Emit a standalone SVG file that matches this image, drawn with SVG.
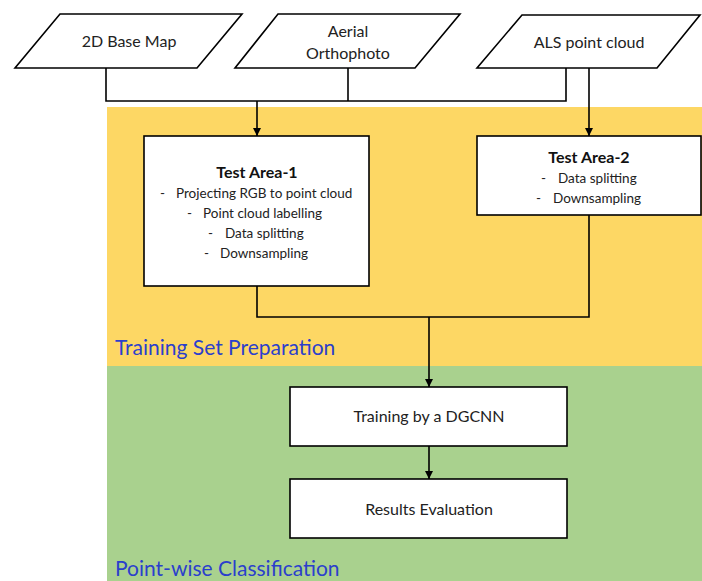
<svg xmlns="http://www.w3.org/2000/svg" width="702" height="581" viewBox="0 0 702 581">
<defs>
<marker id="arr" viewBox="0 0 10 10" refX="10" refY="5" markerWidth="8" markerHeight="8" markerUnits="userSpaceOnUse" orient="auto">
<path d="M0,0 L10,5 L0,10 z" fill="#000"/>
</marker>
<style>
.box{fill:#fff;stroke:#000;stroke-width:1.6}
.t{font-family:Lato,"Liberation Sans",sans-serif;font-size:16px;fill:#222;text-anchor:middle}
.s{font-family:Lato,"Liberation Sans",sans-serif;font-size:13.5px;fill:#222}
.b{font-family:Lato,"Liberation Sans",sans-serif;font-size:16px;font-weight:bold;fill:#111;text-anchor:middle}
.lab{font-family:Lato,"Liberation Sans",sans-serif;font-size:21px;fill:#2B3FCC}
.c{fill:none;stroke:#000;stroke-width:1.6}
</style>
</defs>
<rect x="0" y="0" width="702" height="581" fill="#fff"/>
<rect x="107" y="107" width="595" height="259" fill="#FDD764"/>
<rect x="107" y="366" width="595" height="215" fill="#A9D18E"/>
<text class="lab" x="115" y="355">Training Set Preparation</text>
<text class="lab" x="115" y="576">Point-wise Classification</text>
<g id="connectors">
<path class="c" d="M106,68 V101 H566 V68"/>
<path class="c" d="M348,68 V101"/>
<path class="c" d="M257,101 V136" marker-end="url(#arr)"/>
<path class="c" d="M589,68 V136" marker-end="url(#arr)"/>
<path class="c" d="M257,286 V317 H589 V215"/>
<path class="c" d="M429,317 V387" marker-end="url(#arr)"/>
<path class="c" d="M429,446 V479" marker-end="url(#arr)"/>
</g>
<g id="base-map">
<polygon class="box" points="60,14 242,14 197,68 15,68"/>
<text class="t" x="129" y="47">2D Base Map</text>
</g>
<g id="orthophoto">
<polygon class="box" points="278,14 460,14 415,68 235,68"/>
<text class="t" x="348" y="37">Aerial</text>
<text class="t" x="348" y="59">Orthophoto</text>
</g>
<g id="als">
<polygon class="box" points="522,15 700,15 657,68 477,68"/>
<text class="t" x="589" y="48">ALS point cloud</text>
</g>
<g id="test-area-1">
<rect class="box" x="144" y="136" width="225" height="150"/>
<text class="b" x="257" y="178">Test Area-1</text>
<text class="s" x="160" y="198">-</text><text class="s" x="176" y="198">Projecting RGB to point cloud</text>
<text class="s" x="187" y="218">-</text><text class="s" x="203" y="218">Point cloud labelling</text>
<text class="s" x="208" y="238">-</text><text class="s" x="225" y="238">Data splitting</text>
<text class="s" x="204" y="258">-</text><text class="s" x="220" y="258">Downsampling</text>
</g>
<g id="test-area-2">
<rect class="box" x="477" y="136" width="224" height="79"/>
<text class="b" x="589" y="163">Test Area-2</text>
<text class="s" x="541" y="183">-</text><text class="s" x="558" y="183">Data splitting</text>
<text class="s" x="536" y="203">-</text><text class="s" x="553" y="203">Downsampling</text>
</g>
<g id="dgcnn">
<rect class="box" x="290" y="387" width="277" height="59"/>
<text class="t" x="429" y="422">Training by a DGCNN</text>
</g>
<g id="results">
<rect class="box" x="290" y="479" width="277" height="59"/>
<text class="t" x="429" y="515">Results Evaluation</text>
</g>
</svg>
